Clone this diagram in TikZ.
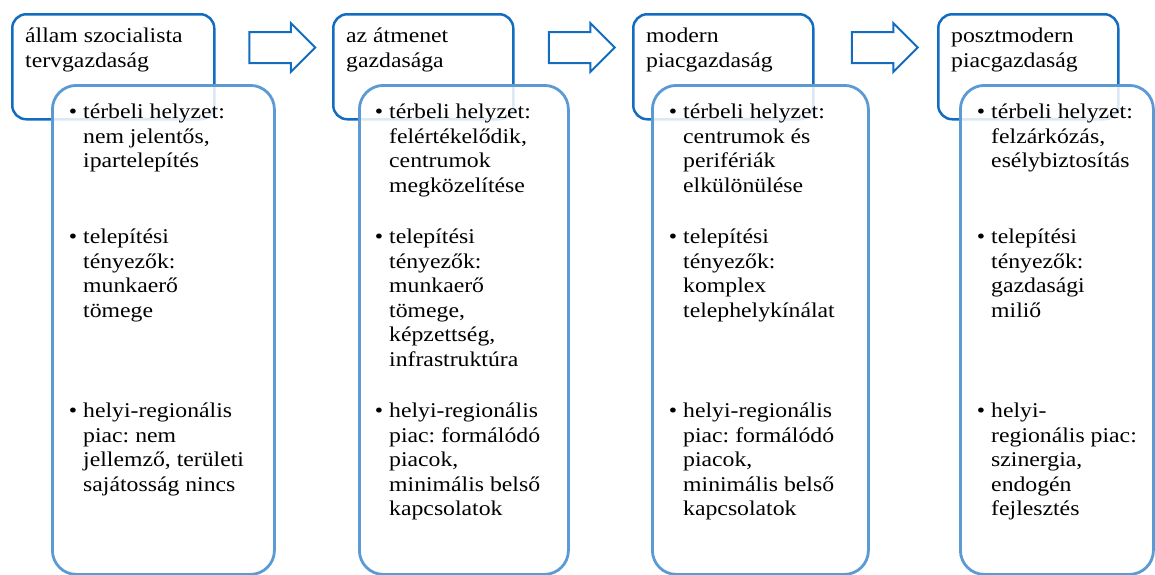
\documentclass[tikz,border=0pt]{standalone}
\usepackage{fontspec}
\setmainfont{Liberation Serif}[FakeStretch=1.13]
\usetikzlibrary{shapes.arrows}
\definecolor{headblue}{RGB}{18,108,192}
\definecolor{boxblue}{RGB}{91,155,213}
\newcommand\bulletmark{\llap{\textbullet\hspace{6pt}}}% hanging bullet
\tikzset{
  headbox/.style={draw=headblue, line width=2.5pt, rounded corners=14pt, anchor=north west, inner sep=0pt, minimum height=105pt},
  listbox/.style={draw=boxblue, line width=2.8pt, rounded corners=24pt, fill=white, fill opacity=0.85, anchor=north west, inner sep=0pt, minimum height=489pt},
  % coordinates of the texts are the baselines of their first lines
  headtext/.style={anchor=north west, yshift=17.15pt, align=left, inner sep=0pt, font=\fontsize{21}{24.5}\selectfont\frenchspacing, execute at begin node=\strut},
  itemtext/.style={headtext},
  stagearrow/.style={single arrow, draw=headblue, line width=2pt, inner xsep=0pt, inner ysep=14.5pt, minimum height=66pt, minimum width=47pt, single arrow head extend=9pt, single arrow tip angle=90}
}

\begin{document}
\begin{tikzpicture}[x=1pt,y=-1pt]
  \useasboundingbox (0,0) rectangle (1155,574);
  % stage headers
  \node[headbox, minimum width=202pt] (head1) at (11,13) {};
  \node[headbox, minimum width=180pt] (head2) at (332,13) {};
  \node[headbox, minimum width=180pt] (head3) at (632,13) {};
  \node[headbox, minimum width=180pt] (head4) at (937,13) {};
  % arrows between the stages
  \node[stagearrow] (arr1) at (274.5,47.5) {};
  \node[stagearrow] (arr2) at (574,47.5) {};
  \node[stagearrow] (arr3) at (877,47.5) {};
  % lists, laid over the headers
  \node[listbox, minimum width=222pt] (list1) at (51,84) {};
  \node[listbox, minimum width=209pt] (list2) at (358,84) {};
  \node[listbox, minimum width=216pt] (list3) at (651,84) {};
  \node[listbox, minimum width=193pt] (list4) at (959,84) {};
  % header texts
  \node[headtext] (ht1) at (25,45) {állam szocialista\\tervgazdaság};
  \node[headtext] (ht2) at (346,45) {az átmenet\\gazdasága};
  \node[headtext] (ht3) at (646,45) {modern\\piacgazdaság};
  \node[headtext] (ht4) at (951,45) {posztmodern\\piacgazdaság};
  % column 1
  \node[itemtext] (a1) at (83,121) {\bulletmark térbeli helyzet:\\nem jelentős,\\ipartelepítés};
  \node[itemtext] (a2) at (83,246) {\bulletmark telepítési\\tényezők:\\munkaerő\\tömege};
  \node[itemtext] (a3) at (83,420) {\bulletmark helyi-regionális\\piac: nem\\jellemző, területi\\sajátosság nincs};
  % column 2
  \node[itemtext] (b1) at (389,121) {\bulletmark térbeli helyzet:\\felértékelődik,\\centrumok\\megközelítése};
  \node[itemtext] (b2) at (389,246) {\bulletmark telepítési\\tényezők:\\munkaerő\\tömege,\\képzettség,\\infrastruktúra};
  \node[itemtext] (b3) at (389,420) {\bulletmark helyi-regionális\\piac: formálódó\\piacok,\\minimális belső\\kapcsolatok};
  % column 3
  \node[itemtext] (c1) at (683,121) {\bulletmark térbeli helyzet:\\centrumok és\\perifériák\\elkülönülése};
  \node[itemtext] (c2) at (683,246) {\bulletmark telepítési\\tényezők:\\komplex\\telephelykínálat};
  \node[itemtext] (c3) at (683,420) {\bulletmark helyi-regionális\\piac: formálódó\\piacok,\\minimális belső\\kapcsolatok};
  % column 4
  \node[itemtext] (d1) at (991,121) {\bulletmark térbeli helyzet:\\felzárkózás,\\esélybiztosítás};
  \node[itemtext] (d2) at (991,246) {\bulletmark telepítési\\tényezők:\\gazdasági\\miliő};
  \node[itemtext] (d3) at (991,420) {\bulletmark helyi-\\regionális piac:\\szinergia,\\endogén\\fejlesztés};
\end{tikzpicture}
\end{document}
